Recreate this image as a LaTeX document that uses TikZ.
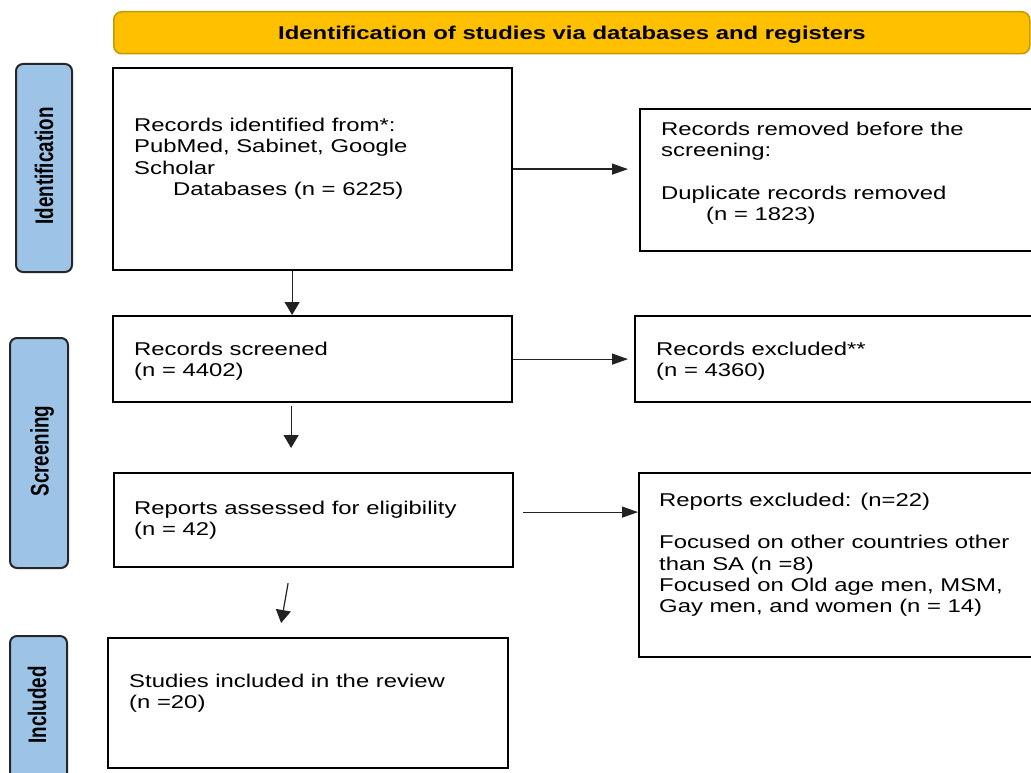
\documentclass[tikz,border=0pt]{standalone}
\usepackage{fontspec}
\usepackage{graphicx}
\setmainfont{Liberation Sans}[FakeStretch=1.29]
\newfontfamily\rotfont{Liberation Sans}
\usetikzlibrary{arrows.meta}
\definecolor{banneryellow}{HTML}{FFC000}
\definecolor{bannerborder}{HTML}{C49A00}
\definecolor{barblue}{HTML}{9DC3E6}
\definecolor{bardark}{HTML}{262626}
\definecolor{arrowgray}{HTML}{222222}
\begin{document}
\begin{tikzpicture}[x=1pt,y=-1pt,
  box/.style={draw=black,line width=2.2pt,fill=white,anchor=north west,inner sep=0pt},
  phase/.style={draw=bardark,line width=2pt,fill=barblue,rounded corners=7pt,anchor=north west,inner sep=0pt},
  banner/.style={draw=bannerborder,line width=1.5pt,fill=banneryellow,rounded corners=8pt,anchor=north west,inner sep=0pt},
  txt/.style={anchor=north west,inner sep=0pt,align=left,font=\fontsize{18.5}{21.3}\selectfont},
  harr/.style={draw=arrowgray,line width=1.2pt,-{Triangle[length=16pt,width=11pt]}},
  varr/.style={draw=arrowgray,line width=1.2pt,-{Triangle[length=13pt,width=15pt]}},
  rot/.style={rotate=90,inner sep=0pt,font=\rotfont\bfseries\fontsize{18.8}{20}\selectfont}]
\useasboundingbox (0,0) rectangle (1031,773);
\clip (0,0) rectangle (1031,773);

% banner
\node[banner,minimum width=916pt,minimum height=42pt] (ban) at (113,11) {};
\node[inner sep=0pt,font=\bfseries\fontsize{18.5}{21}\selectfont] (bantxt) at (572,35) {Identification of studies via databases and registers};

% phase bars
\node[phase,minimum width=56pt,minimum height=208pt] (idbar) at (15,63) {};
\node[phase,minimum width=58pt,minimum height=230pt] (scbar) at (9,337) {};
\node[phase,minimum width=57pt,minimum height=160pt] (inbar) at (9,635) {};
\node[rot] (idlab) at (44,166) {\scalebox{1}[1.35]{Identification}};
\node[rot] (sclab) at (42,451) {\scalebox{1}[1.35]{Screening}};
\node[rot] (inlab) at (37,705) {\scalebox{1}[1.35]{Included}};

% boxes
\node[box,minimum width=399pt,minimum height=202pt] (b1) at (112,67) {};
\node[box,minimum width=410pt,minimum height=142pt] (b2) at (639,108) {};
\node[box,minimum width=399pt,minimum height=86pt] (b3) at (112,315) {};
\node[box,minimum width=410pt,minimum height=86pt] (b4) at (634,315) {};
\node[box,minimum width=399pt,minimum height=94pt] (b5) at (113,472) {};
\node[box,minimum width=410pt,minimum height=184pt] (b6) at (638,472) {};
\node[box,minimum width=400pt,minimum height=130pt] (b7) at (107,637) {};

% texts
\node[txt] (t1) at (134,118) {Records identified from*:\\PubMed, Sabinet, Google\\Scholar\\\hspace*{39pt}Databases (n = 6225)};
\node[txt] (t2) at (661,122) {Records removed before the\\screening:\\[21pt]Duplicate records removed\\\hspace*{45pt}(n = 1823)};
\node[txt] (t3) at (134,342) {Records screened\\(n = 4402)};
\node[txt] (t4) at (656,342) {Records excluded**\\(n = 4360)};
\node[txt] (t5) at (134,501) {Reports assessed for eligibility\\(n = 42)};
\node[txt] (t6) at (659,493) {Reports excluded: (n=22)\\[21pt]Focused on other countries other\\than SA (n =8)\\Focused on Old age men, MSM,\\Gay men, and women (n = 14)};
\node[txt] (t7) at (129,674) {Studies included in the review\\(n =20)};

% connectors
\draw[harr,shorten >=11pt] (b1.east) -- (b1.east -| b2.west);
\draw[varr] ([xshift=-20.5pt]b1.south) -- ([xshift=-20.5pt]b3.north);
\draw[harr,shorten >=6pt] (b3.east) -- (b3.east -| b4.west);
\draw[varr,shorten <=3pt,shorten >=24pt] ([xshift=-21.5pt]b3.south) -- ([xshift=-22.5pt]b5.north);
\draw[harr,shorten <=9pt] ([yshift=8pt]b5.east) -- ([yshift=53pt]b6.west);
\draw[varr] ([xshift=-25.5pt,yshift=-15pt]b5.south) -- ([xshift=-27pt,yshift=14pt]b7.north);
\end{tikzpicture}
\end{document}
